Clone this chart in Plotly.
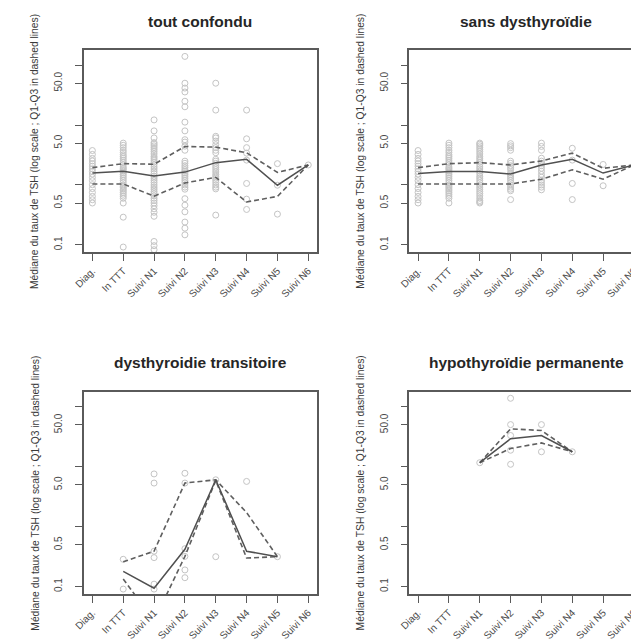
import plotly.graph_objects as go

# The page body adds an 8px margin; work in screen pixels and shift by OFF.
OFF = 8
SW, SH = 639, 641
W, H = SW - OFF, SH - OFF

categories = ["Diag.", "In TTT", "Suivi N1", "Suivi N2", "Suivi N3", "Suivi N4", "Suivi N5", "Suivi N6"]

panel_titles = ["tout confondu", "sans dysthyroïdie", "dysthyroidie transitoire", "hypothyroïdie permanente"]
y_title = "Médiane du taux de TSH (log scale ; Q1-Q3 in dashed lines)"

ytick_vals = [0.1, 0.5, 1, 5, 10, 50, 100]
ytick_text = ["0.1", "0.5", "", "5.0", "", "50.0", ""]

# --- tout confondu ---
tout_med = [1.58, 1.70, 1.41, 1.64, 2.36, 2.68, 0.99, 2.16]
tout_q1 = [1.04, 1.04, 0.65, 1.08, 1.34, 0.52, 0.645, 2.16]
tout_q3 = [1.95, 2.27, 2.22, 4.40, 4.28, 3.45, 1.62, 2.16]
tout_pts = [
    [3.76, 3.24, 2.78, 2.52, 2.27, 2.06, 1.86, 1.68, 1.52, 1.34, 1.18, 1.01, 0.87, 0.75, 0.645, 0.567, 0.5],
    [5.0, 4.6, 4.2, 3.8, 3.5, 3.2, 3.0, 2.8, 2.6, 2.4, 2.2, 2.0, 1.9, 1.8, 1.7, 1.6, 1.5, 1.4, 1.3, 1.2,
     1.1, 1.0, 0.95, 0.9, 0.85, 0.8, 0.75, 0.7, 0.65, 0.6, 0.5, 0.29, 0.092],
    [12.2, 8.0, 6.1, 5.1, 4.8, 4.5, 4.2, 3.9, 3.6, 3.3, 3.0, 2.8, 2.6, 2.4, 2.2, 2.0, 1.85, 1.7, 1.55, 1.4,
     1.3, 1.2, 1.1, 1.0, 0.92, 0.85, 0.78, 0.72, 0.66, 0.6, 0.55, 0.5, 0.45, 0.4, 0.35, 0.3, 0.114, 0.097, 0.083],
    [140, 50, 41.5, 35.7, 25, 20.2, 11.2, 8.0, 5.7, 5.2, 4.45, 3.8, 2.5, 2.3, 2.1, 1.95, 1.8, 1.7, 1.6, 1.5,
     1.4, 1.3, 1.2, 1.1, 1.0, 0.92, 0.85, 0.59, 0.46, 0.356, 0.24, 0.19, 0.147],
    [50, 17.8, 6.5, 6.1, 5.4, 4.7, 4.2, 3.8, 3.45, 2.68, 2.5, 2.3, 2.1, 1.95, 1.8, 1.65, 1.5, 1.4, 1.3, 1.2,
     1.1, 1.0, 0.92, 0.86, 0.314],
    [17.8, 5.9, 4.2, 3.4, 2.6, 1.06, 0.58, 0.39],
    [2.27, 0.99, 0.326],
    [2.16],
]

# --- sans dysthyroïdie ---
sans_med = [1.56, 1.68, 1.68, 1.52, 2.16, 2.68, 1.58, 2.16]
sans_q1 = [1.04, 1.04, 1.065, 1.04, 1.25, 1.79, 1.25, 2.16]
sans_q3 = [1.95, 2.27, 2.36, 2.16, 2.52, 3.40, 1.90, 2.16]
sans_pts = [
    [3.76, 3.24, 2.78, 2.52, 2.27, 2.06, 1.86, 1.68, 1.52, 1.34, 1.18, 1.01, 0.87, 0.75, 0.645, 0.567, 0.5],
    [5.0, 4.6, 4.2, 3.8, 3.5, 3.2, 3.0, 2.8, 2.6, 2.4, 2.2, 2.0, 1.9, 1.8, 1.7, 1.6, 1.5, 1.4, 1.3, 1.2,
     1.1, 1.0, 0.95, 0.9, 0.85, 0.8, 0.75, 0.7, 0.65, 0.6, 0.5],
    [5.0, 4.8, 4.5, 4.2, 3.9, 3.6, 3.3, 3.0, 2.8, 2.6, 2.4, 2.2, 2.0, 1.85, 1.7, 1.55, 1.4, 1.3, 1.2, 1.1,
     1.0, 0.92, 0.85, 0.78, 0.72, 0.66, 0.6, 0.55, 0.52, 0.5],
    [4.9, 4.5, 4.2, 3.8, 2.5, 2.3, 2.1, 1.95, 1.8, 1.6, 1.5, 1.4, 1.3, 1.2, 1.1, 1.0, 0.92, 0.85, 0.8, 0.57],
    [5.0, 4.4, 3.8, 2.8, 2.5, 2.3, 2.1, 1.9, 1.7, 1.5, 1.35, 1.2, 1.1, 1.0, 0.92, 0.83],
    [4.1, 2.6, 1.06, 0.57],
    [2.2, 0.97],
    [2.16],
]

# --- dysthyroidie transitoire ---
trans_med = [None, 0.18, 0.094, 0.42, 6.07, 0.39, 0.316, None]
trans_q1 = [None, 0.134, 0.027, 0.32, 5.9, 0.30, 0.316, None]
trans_q3 = [None, 0.26, 0.39, 5.35, 6.07, 1.72, 0.316, None]
trans_pts = [
    [],
    [0.286, 0.091],
    [7.6, 5.35, 0.39, 0.305, 0.11, 0.091],
    [7.8, 5.35, 0.43, 0.32, 0.19, 0.141],
    [6.07, 0.316],
    [5.7],
    [0.316],
    [],
]

# --- hypothyroïdie permanente ---
hypo_med = [None, None, 11.7, 29.4, 33.3, 17.8, None, None]
hypo_q1 = [None, None, 11.7, 20.2, 25.0, 17.8, None, None]
hypo_q3 = [None, None, 11.7, 43.0, 40.3, 17.8, None, None]
hypo_pts = [
    [],
    [],
    [11.7],
    [139, 50.6, 33.3, 18.9, 11.0],
    [50.6, 17.8],
    [17.8],
    [],
    [],
]

panels = [
    (tout_med, tout_q1, tout_q3, tout_pts),
    (sans_med, sans_q1, sans_q3, sans_pts),
    (trans_med, trans_q1, trans_q3, trans_pts),
    (hypo_med, hypo_q1, hypo_q3, hypo_pts),
]

FONT = "Liberation Sans, Arial, sans-serif"
AXC = "#5a5a5a"

# panel geometry in screen pixels
left_box = (74, 311.7)
right_box = (406, 639)
top_box = (50.7, 256)
bot_box = (397.3, 602.7)
unit = (311.7 - 74) / 7.56
boxes = [(left_box, top_box), (right_box, top_box), (left_box, bot_box), (right_box, bot_box)]


def fx(sx):
    return (sx - OFF) / W


def fy(sy):
    return 1 - (sy - OFF) / H


fig = go.Figure()
xpos = list(range(1, 9))

for i, (med, q1, q3, pts) in enumerate(panels):
    n = "" if i == 0 else str(i + 1)
    xa, ya = "x" + n, "y" + n
    px, py = [], []
    for k, vals in enumerate(pts):
        for v in vals:
            px.append(xpos[k])
            py.append(v)
    fig.add_trace(go.Scatter(x=px, y=py, mode="markers", xaxis=xa, yaxis=ya,
                             marker=dict(symbol="circle-open", size=6, color="#c4c4c4",
                                         line=dict(width=1, color="#c4c4c4")),
                             showlegend=False, hoverinfo="skip", cliponaxis=True))
    for q in (q1, q3):
        fig.add_trace(go.Scatter(x=xpos, y=q, mode="lines", xaxis=xa, yaxis=ya,
                                 line=dict(color="#5f5f5f", width=1.6, dash="5px,3px"),
                                 connectgaps=False, showlegend=False))
    fig.add_trace(go.Scatter(x=xpos, y=med, mode="lines", xaxis=xa, yaxis=ya,
                             line=dict(color="#505050", width=1.5),
                             connectgaps=False, showlegend=False))

    (bx0, bx1), (by0, by1) = boxes[i]
    xr0 = 0.72
    xr1 = xr0 + (bx1 - bx0) / unit
    fig.layout["xaxis" + n] = dict(
        domain=[fx(bx0), min(1.0, fx(bx1))], range=[xr0, xr1], anchor=ya,
        tickmode="array", tickvals=xpos, ticktext=categories, tickangle=-45,
        ticks="outside", ticklen=7, tickwidth=1.2, tickcolor=AXC,
        showline=True, linecolor=AXC, linewidth=1.5, mirror=True,
        showgrid=False, zeroline=False, ticklabeloverflow="allow",
        tickfont=dict(family=FONT, size=10, color="#4a4a4a"),
    )
    fig.layout["yaxis" + n] = dict(
        domain=[fy(by1), fy(by0)], type="log", range=[-1.127, 2.252], anchor=xa,
        tickmode="array", tickvals=ytick_vals, ticktext=ytick_text, tickangle=-90,
        ticks="outside", ticklen=7, tickwidth=1.2, tickcolor=AXC,
        showline=True, linecolor=AXC, linewidth=1.5, mirror=(i % 2 == 0),
        showgrid=False, zeroline=False, ticklabelstandoff=9,
        tickfont=dict(family=FONT, size=10, color="#4a4a4a"),
    )
    cx = bx0 + 3.78 * unit
    fig.add_annotation(text="<b>" + panel_titles[i] + "</b>", xref="paper", yref="paper",
                       x=fx(cx), y=fy(by0 - 29.5), showarrow=False,
                       xanchor="center", yanchor="middle",
                       font=dict(family=FONT, size=15.5, color="#262626"))
    fig.add_annotation(text=y_title, xref="paper", yref="paper",
                       x=fx(bx0 - 50), y=fy((by0 + by1) / 2), showarrow=False,
                       textangle=-90, xanchor="center", yanchor="middle",
                       font=dict(family=FONT, size=10.3, color="#3a3a3a"))

fig.update_layout(width=W, height=H, margin=dict(l=0, r=0, t=0, b=0),
                  plot_bgcolor="white", paper_bgcolor="white", showlegend=False)

fig.write_html("out.html")
